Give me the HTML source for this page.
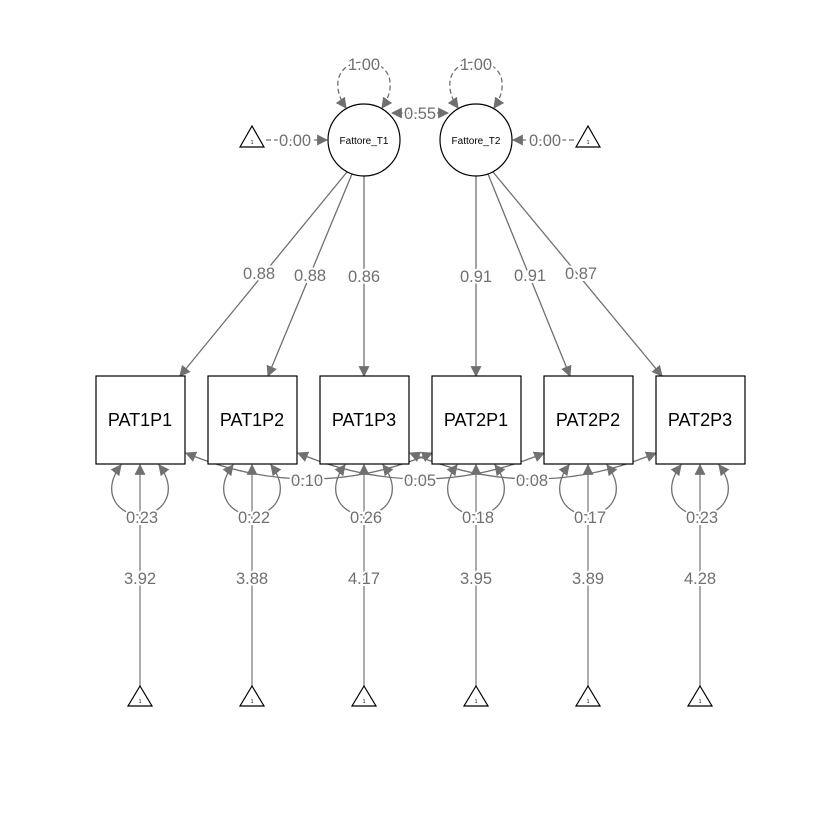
<!DOCTYPE html>
<html><head><style>body{margin:0;background:#fff}svg{display:block}text{font-family:"Liberation Sans",sans-serif}</style></head>
<body>
<svg width="840" height="840" viewBox="0 0 840 840" xmlns="http://www.w3.org/2000/svg">
<defs>
<marker id="b" viewBox="0 0 10 10" refX="9" refY="5" markerWidth="11" markerHeight="11" orient="auto-start-reverse" markerUnits="userSpaceOnUse"><path d="M0,0 L10,5 L0,10 z" fill="#707070"/></marker>
</defs>
<g fill="none" stroke="#707070" stroke-width="1.3">
<line x1="347" y1="172" x2="180" y2="376" marker-end="url(#b)"/>
<line x1="352" y1="174" x2="268" y2="376" marker-end="url(#b)"/>
<line x1="364" y1="176" x2="364" y2="376" marker-end="url(#b)"/>
<line x1="476" y1="176" x2="476" y2="376" marker-end="url(#b)"/>
<line x1="488" y1="174" x2="570" y2="376" marker-end="url(#b)"/>
<line x1="493" y1="172" x2="662" y2="376" marker-end="url(#b)"/>
<path d="M186,453 Q310,505 432,453" marker-start="url(#b)" marker-end="url(#b)"/>
<path d="M298,453 Q421,505 544,453" marker-start="url(#b)" marker-end="url(#b)"/>
<path d="M410,453 Q533,505 656,453" marker-start="url(#b)" marker-end="url(#b)"/>
<line x1="392" y1="113" x2="448" y2="113" marker-start="url(#b)" marker-end="url(#b)"/>
<line x1="266" y1="140" x2="327" y2="140" stroke-dasharray="5,3" marker-end="url(#b)"/>
<line x1="574" y1="140" x2="513" y2="140" stroke-dasharray="5,3" marker-end="url(#b)"/>
<path d="M346,108 C330,85 338,62 364,62 C390,62 398,85 382,108" stroke-dasharray="5,3" marker-start="url(#b)" marker-end="url(#b)"/>
<path d="M458,108 C442,85 450,62 476,62 C502,62 510,85 494,108" stroke-dasharray="5,3" marker-start="url(#b)" marker-end="url(#b)"/>
</g>
<g fill="none" stroke="#909090" stroke-width="1.5">
<line x1="140" y1="686" x2="140" y2="465" marker-end="url(#b)"/>
<line x1="252" y1="686" x2="252" y2="465" marker-end="url(#b)"/>
<line x1="364" y1="686" x2="364" y2="465" marker-end="url(#b)"/>
<line x1="476" y1="686" x2="476" y2="465" marker-end="url(#b)"/>
<line x1="588" y1="686" x2="588" y2="465" marker-end="url(#b)"/>
<line x1="700" y1="686" x2="700" y2="465" marker-end="url(#b)"/>
</g>
<g fill="none" stroke="#707070" stroke-width="1.3">
<path d="M121,465 C100,492 118,515 140,515 C162,515 180,492 159,465" marker-start="url(#b)" marker-end="url(#b)"/>
<path d="M233,465 C212,492 230,515 252,515 C274,515 292,492 271,465" marker-start="url(#b)" marker-end="url(#b)"/>
<path d="M345,465 C324,492 342,515 364,515 C386,515 404,492 383,465" marker-start="url(#b)" marker-end="url(#b)"/>
<path d="M457,465 C436,492 454,515 476,515 C498,515 516,492 495,465" marker-start="url(#b)" marker-end="url(#b)"/>
<path d="M569,465 C548,492 566,515 588,515 C610,515 628,492 607,465" marker-start="url(#b)" marker-end="url(#b)"/>
<path d="M681,465 C660,492 678,515 700,515 C722,515 740,492 719,465" marker-start="url(#b)" marker-end="url(#b)"/>
</g>
<g fill="#fff" stroke="#000" stroke-width="1.2">
<circle cx="364" cy="140" r="36"/><circle cx="476" cy="140" r="36"/>
<rect x="96" y="376" width="89" height="88"/><rect x="208" y="376" width="89" height="88"/>
<rect x="320" y="376" width="89" height="88"/><rect x="432" y="376" width="89" height="88"/>
<rect x="544" y="376" width="89" height="88"/><rect x="656" y="376" width="89" height="88"/>
<polygon points="252,126 240,147 264,147"/><polygon points="588,126 576,147 600,147"/>
<polygon points="140,686 128,706 152,706"/><polygon points="252,686 240,706 264,706"/>
<polygon points="364,686 352,706 376,706"/><polygon points="476,686 464,706 488,706"/>
<polygon points="588,686 576,706 600,706"/><polygon points="700,686 688,706 712,706"/>
</g>
<g font-size="5" text-anchor="middle" fill="#000">
<text x="252" y="144">1</text><text x="588" y="144">1</text>
<text x="140" y="703">1</text><text x="252" y="703">1</text><text x="364" y="703">1</text><text x="476" y="703">1</text><text x="588" y="703">1</text><text x="700" y="703">1</text>
</g>
<g font-size="10" text-anchor="middle" fill="#000">
<text x="364" y="144">Fattore_T1</text><text x="476" y="144">Fattore_T2</text>
</g>
<g font-size="18" text-anchor="middle" fill="#000">
<text x="140" y="426">PAT1P1</text><text x="252" y="426">PAT1P2</text><text x="364" y="426">PAT1P3</text>
<text x="476" y="426">PAT2P1</text><text x="588" y="426">PAT2P2</text><text x="700" y="426">PAT2P3</text>
</g>
<g font-size="16.5" text-anchor="middle" fill="#707070" stroke="#fff" stroke-width="4" paint-order="stroke">
<text x="364" y="70">1.00</text><text x="476" y="70">1.00</text>
<text x="420" y="119">0.55</text>
<text x="295" y="146">0.00</text><text x="545" y="146">0.00</text>
<text x="259" y="279">0.88</text><text x="310" y="281">0.88</text><text x="364" y="282">0.86</text>
<text x="476" y="282">0.91</text><text x="530" y="281">0.91</text><text x="581" y="279">0.87</text>
<text x="307" y="486">0.10</text><text x="420" y="486">0.05</text><text x="532" y="486">0.08</text>
<text x="142" y="523">0.23</text><text x="254" y="523">0.22</text><text x="366" y="523">0.26</text>
<text x="478" y="523">0.18</text><text x="590" y="523">0.17</text><text x="702" y="523">0.23</text>
<text x="140" y="584">3.92</text><text x="252" y="584">3.88</text><text x="364" y="584">4.17</text>
<text x="476" y="584">3.95</text><text x="588" y="584">3.89</text><text x="700" y="584">4.28</text>
</g>
</svg>
</body></html>
